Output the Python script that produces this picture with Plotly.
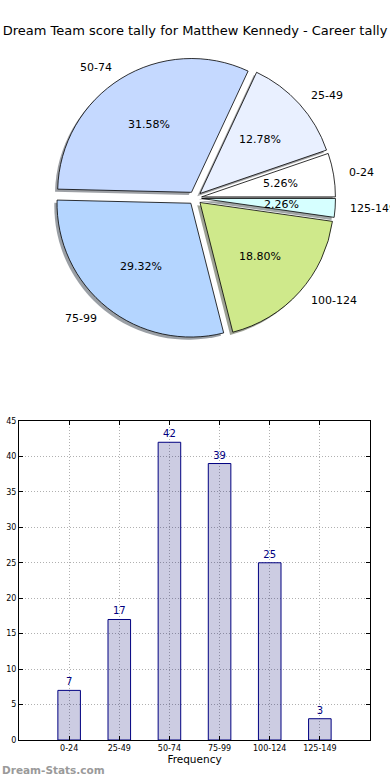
import math
import plotly.graph_objects as go

# ---------------- data ----------------
categories = ["0-24", "25-49", "50-74", "75-99", "100-124", "125-149"]
counts = [7, 17, 42, 39, 25, 3]
slice_colors = ["#ffffff", "#e9f0ff", "#c5d9ff", "#b4d5ff", "#cfe98b", "#d6ffff"]
title_text = "Dream Team score tally for Matthew Kennedy - Career tally"
x_title = "Frequency"
y_ticks = list(range(0, 46, 5))

# ---------------- layout constants ----------------
W, H = 390, 780
cx, cy = 195, 198          # pie centre in px
pull = 0.05
size = 281                 # pie domain size in px
r = size / (2 + 2 * pull)  # radius plotly will use
font = "DejaVu Sans"

total = sum(counts)
# first slice starts at 3 o'clock going counter-clockwise (matplotlib style)
rotation = 90 - 360.0 * counts[0] / total


def dom(x0, y0, s):
    return dict(x=[(x0 - s / 2) / W, (x0 + s / 2) / W],
                y=[1 - (y0 + s / 2) / H, 1 - (y0 - s / 2) / H])


def hex_rgb(h):
    h = h.lstrip("#")
    return [int(h[i:i + 2], 16) for i in (0, 2, 4)]


shadow_colors = ["rgba(%d,%d,%d,0.5)" % tuple(int(0.3 * c) for c in hex_rgb(col))
                 for col in slice_colors]

fig = go.Figure()

pie_common = dict(labels=categories, values=counts, sort=False,
                  direction="counterclockwise", rotation=rotation, pull=pull,
                  textinfo="none", hoverinfo="label+percent", showlegend=False)

# shadow
fig.add_trace(go.Pie(**pie_common,
                     marker=dict(colors=shadow_colors, line=dict(width=0)),
                     domain=dom(cx - 2.7, cy + 2.7, size)))
# main pie
fig.add_trace(go.Pie(**pie_common,
                     marker=dict(colors=slice_colors, line=dict(color="black", width=0.8)),
                     domain=dom(cx, cy, size)))

# pie labels & percentages (matplotlib-like placement, computed from data)
annotations = []
cum = 0
for cat, v in zip(categories, counts):
    theta = 2 * math.pi * (cum + v / 2) / total
    cum += v
    c, s = math.cos(theta), math.sin(theta)
    lx = cx + r * (pull + 1.1) * c
    ly = cy - r * (pull + 1.1) * s
    annotations.append(dict(x=lx / W, y=1 - ly / H, xref="paper", yref="paper",
                            text=cat, showarrow=False,
                            xanchor="left" if c > 0 else "right", yanchor="middle",
                            font=dict(family=font, size=11, color="black")))
    px_ = cx + r * (pull + 0.6) * c
    py_ = cy - r * (pull + 0.6) * s
    annotations.append(dict(x=px_ / W, y=1 - py_ / H, xref="paper", yref="paper",
                            text="%.2f%%" % (100.0 * v / total), showarrow=False,
                            xanchor="center", yanchor="middle",
                            font=dict(family=font, size=11, color="black")))

annotations.append(dict(x=0, y=1 - 770 / H, xref="paper", yref="paper",
                        text="<b>Dream-Stats.com</b>", showarrow=False,
                        xanchor="left", yanchor="middle",
                        font=dict(family=font, size=10.5, color="#9a9a9a")))

# bar chart
fig.add_trace(go.Bar(x=categories, y=counts, width=0.45,
                     marker=dict(color="rgba(0,0,110,0.2)",
                                 line=dict(color="#000080", width=1)),
                     text=counts, textposition="outside", cliponaxis=False,
                     textfont=dict(family=font, size=10, color="#000080"),
                     showlegend=False, hoverinfo="x+y"))

axis_style = dict(showline=True, linecolor="black", linewidth=1, mirror="ticks",
                  ticks="inside", ticklen=4, tickcolor="black", automargin=False,
                  showgrid=True, gridcolor="#b0b0b0", griddash="1px,2px", gridwidth=1,
                  zeroline=False, tickfont=dict(family=font, size=8, color="black"))

fig.update_layout(
    width=W, height=H,
    margin=dict(l=0, r=0, t=0, b=0),
    paper_bgcolor="white", plot_bgcolor="white",
    title=dict(text=title_text, x=0.5, xanchor="center",
               y=1 - 30 / H, yanchor="middle", yref="container",
               font=dict(family=font, size=13, color="black")),
    xaxis=dict(domain=[19 / W, 370 / W], range=[-1, 6], type="category",
               categoryorder="array", categoryarray=categories,
               title=dict(text=x_title, standoff=4,
                          font=dict(family=font, size=10.5, color="black")),
               **axis_style),
    yaxis=dict(domain=[1 - 740 / H, 1 - 421 / H], range=[0, 45],
               tickvals=y_ticks, **axis_style),
    annotations=annotations,
    font=dict(family=font),
)

fig.write_html("out.html",
               config={"displayModeBar": False},
               post_script="document.body.style.margin='0';"
                           "document.body.style.overflow='hidden';")
